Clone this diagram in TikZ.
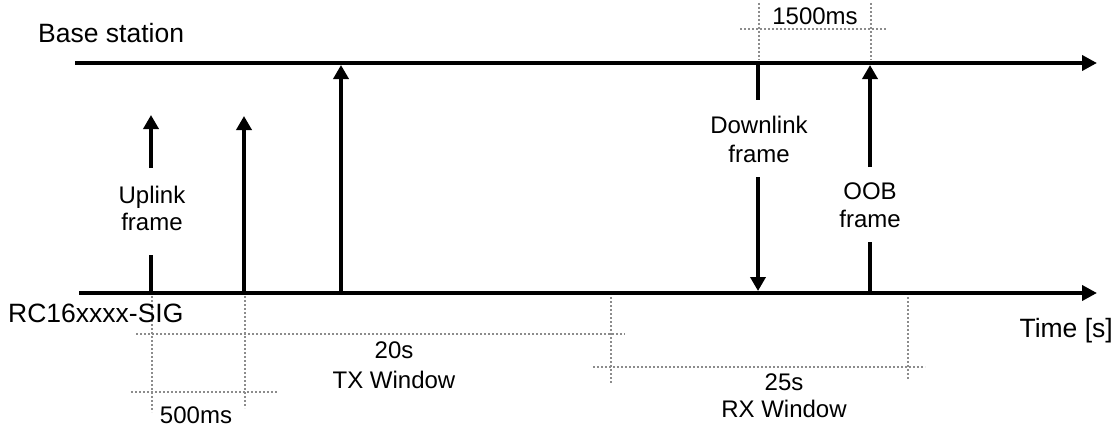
\documentclass[tikz,border=0pt]{standalone}
\usepackage{fontspec}
\setmainfont{Liberation Sans}
\usetikzlibrary{arrows.meta}
\begin{document}
\begin{tikzpicture}[x=1pt,y=-1pt,
  axis/.style={line width=4pt, -{Triangle[length=15pt,width=15pt]}},
  sig/.style={line width=3.5pt},
  sigarrow/.style={sig, -{Triangle[length=14pt,width=15pt]}},
  guide/.style={draw=black!45, line width=2.3pt, dash pattern=on 2.2pt off 1.8pt},
  big/.style={font=\fontsize{26.5}{30}\selectfont, inner sep=0pt},
  lbl/.style={font=\fontsize{24}{28}\selectfont, inner sep=0pt, anchor=base},
]
\useasboundingbox (0,0) rectangle (1118,428);

% dimension guides
\draw[guide] (759,3) -- (759,60);
\draw[guide] (871,3) -- (871,60);
\draw[guide] (740,29) -- (887,29);
\draw[guide] (152,296) -- (152,412);
\draw[guide] (245,296) -- (245,408);
\draw[guide] (131,392) -- (278,392);
\draw[guide] (136,334) -- (625,334);
\draw[guide] (611,297) -- (611,384);
\draw[guide] (908,297) -- (908,379);
\draw[guide] (593,367) -- (925,367);

% axes
\coordinate (t0) at (75,63);  \coordinate (t1) at (1097,63);
\coordinate (b0) at (79,293); \coordinate (b1) at (1097,293);
\draw[axis] (t0) -- (t1);
\draw[axis] (b0) -- (b1);

% uplink 1
\coordinate (u1b) at (151,293); \coordinate (u1g1) at (151,255);
\coordinate (u1g2) at (151,168); \coordinate (u1t) at (151,115);
\draw[sig] (u1b) -- (u1g1);
\draw[sigarrow] (u1g2) -- (u1t);
% uplink 2
\coordinate (u2b) at (244,293); \coordinate (u2t) at (244,116);
\draw[sigarrow] (u2b) -- (u2t);
% uplink 3
\coordinate (u3b) at (341,293); \coordinate (u3t) at (341,65);
\draw[sigarrow] (u3b) -- (u3t);
% downlink
\coordinate (dt) at (758,63); \coordinate (dg1) at (758,100);
\coordinate (dg2) at (758,177); \coordinate (db) at (758,291);
\draw[sig] (dt) -- (dg1);
\draw[sigarrow] (dg2) -- (db);
% OOB
\coordinate (ob) at (870,293); \coordinate (og1) at (870,242);
\coordinate (og2) at (870,167); \coordinate (ot) at (870,65);
\draw[sig] (ob) -- (og1);
\draw[sigarrow] (og2) -- (ot);

% texts
\node[big, anchor=base west] (bs) at (38,43) {Base station};
\node[big, anchor=base west] (rc) at (8,322) {RC16xxxx-SIG};
\node[big, anchor=base east] (time) at (1113,337) {Time [s]};
\node[lbl] (ms1500) at (815,25) {1500ms};
\node[lbl] (ms500) at (196,423) {500ms};
\node[lbl] (tx1) at (394,358) {20s};
\node[lbl] (tx2) at (394,388) {TX Window};
\node[lbl] (rx1) at (784,390) {25s};
\node[lbl] (rx2) at (784,417) {RX Window};
\node[lbl] (ul1) at (152,203) {Uplink};
\node[lbl] (ul2) at (152,230) {frame};
\node[lbl] (dl1) at (759,133) {Downlink};
\node[lbl] (dl2) at (759,162) {frame};
\node[lbl] (oo1) at (870,199) {OOB};
\node[lbl] (oo2) at (870,227) {frame};
\end{tikzpicture}
\end{document}
